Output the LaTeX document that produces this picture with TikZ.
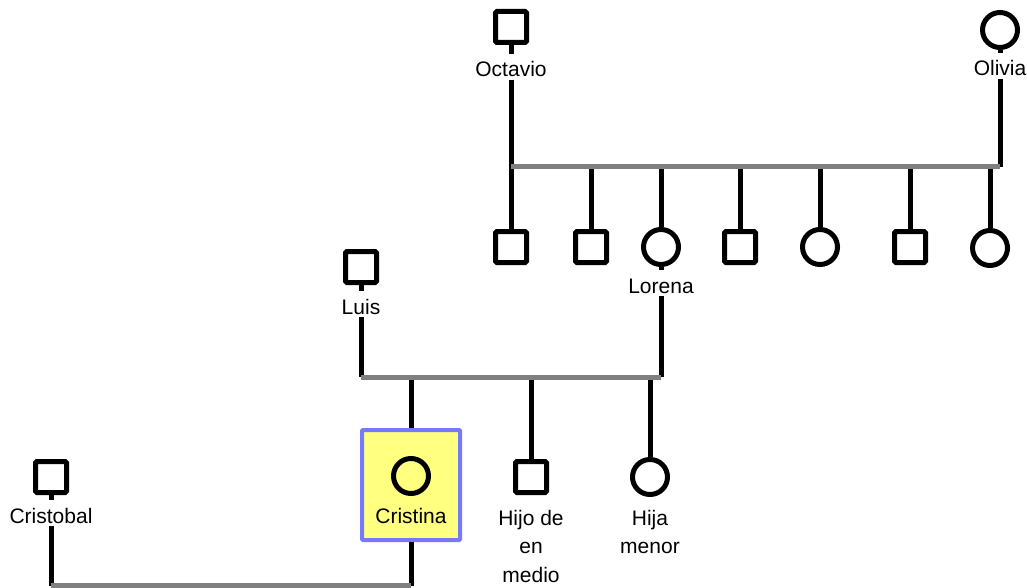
\documentclass[tikz,border=0pt]{standalone}
\usepackage{fontspec}
\setmainfont{Liberation Sans}
\usepackage{tikz}

\definecolor{bargray}{HTML}{808080}
\definecolor{egofill}{HTML}{FFFF80}
\definecolor{egoline}{HTML}{7878FF}

\begin{document}
\begin{tikzpicture}[x=1pt, y=-1pt,
    male/.style={draw, line width=5pt, rounded corners=1.5pt, minimum size=31pt, inner sep=0pt},
    female/.style={draw, circle, line width=5pt, minimum size=35pt, inner sep=0pt},
    nombre/.style={anchor=base, inner xsep=2pt, inner ysep=2.5pt, text height=20pt, text depth=0pt,
      font=\fontsize{21}{26}\selectfont},
    nombres/.style={anchor=north, inner sep=0pt, align=center, font=\fontsize{21}{28.5}\selectfont},
    ego/.style={draw=egoline, fill=egofill, line width=4pt, rounded corners=1pt,
      minimum width=98pt, minimum height=110pt},
    kin/.style={line width=5pt},
    bar/.style={line width=5pt, draw=bargray}]
  \useasboundingbox (0,0) rectangle (1027,588);

  % grandparents
  \node[male] (octavio) at (511,27) {};
  \node[nombre] (octavio-n) at (511,77) {Octavio};
  \node[female] (olivia) at (1000,30) {};
  \node[nombre] (olivia-n) at (1000,76) {Olivia};
  \coordinate (fam1) at (0,167);

  % their children
  \node[male] (son1) at (511,247) {};
  \node[male] (son2) at (591,247) {};
  \node[female] (lorena) at (661,247) {};
  \node[male] (son3) at (740,247) {};
  \node[female] (dau1) at (820,247) {};
  \node[male] (son4) at (910,247) {};
  \node[female] (dau2) at (990,248) {};
  \node[nombre] (lorena-n) at (661,293) {Lorena};

  \node[male] (luis) at (361,267) {};
  \node[nombre] (luis-n) at (361,314) {Luis};
  \coordinate (fam2) at (0,377);

  % grandchildren
  \node[ego] (egobox) at (411,485) {};
  \node[female] (cristina) at (411,476) {};
  \node[nombre] (cristina-n) at (411,523) {Cristina};
  \node[male] (hijo) at (531,477) {};
  \node[nombres] (hijo-n) at (531,510) {Hijo de\\en\\medio};
  \node[female] (hija) at (650,477) {};
  \node[nombres] (hija-n) at (650,510) {Hija\\menor};

  \node[male] (cristobal) at (51,477) {};
  \node[nombre] (cristobal-n) at (51,523) {Cristobal};
  \coordinate (fam3) at (0,585.5);

  % descent lines
  \draw[kin] (octavio) -- (octavio-n);
  \draw[kin] (octavio-n) -- (son1);
  \draw[kin] (olivia) -- (olivia-n);
  \draw[kin] (olivia-n) -- (olivia |- fam1);
  \foreach \c in {son2,lorena,son3,dau1,son4,dau2}
    \draw[kin] (\c |- fam1) -- (\c);

  \draw[kin] (luis) -- (luis-n);
  \draw[kin] (luis-n) -- (luis |- fam2);
  \draw[kin] (lorena) -- (lorena-n);
  \draw[kin] (lorena-n) -- (lorena |- fam2);
  \foreach \c in {egobox,hijo,hija}
    \draw[kin] (\c |- fam2) -- (\c);

  \draw[kin] (cristobal) -- (cristobal-n);
  \draw[kin] (cristobal-n) -- (cristobal |- fam3);
  \draw[kin] (egobox) -- (egobox |- fam3);

  % couples
  \draw[bar] (octavio |- fam1) -- (olivia |- fam1);
  \draw[bar] (luis |- fam2) -- (lorena |- fam2);
  \draw[bar] (cristobal |- fam3) -- (egobox |- fam3);
\end{tikzpicture}
\end{document}
